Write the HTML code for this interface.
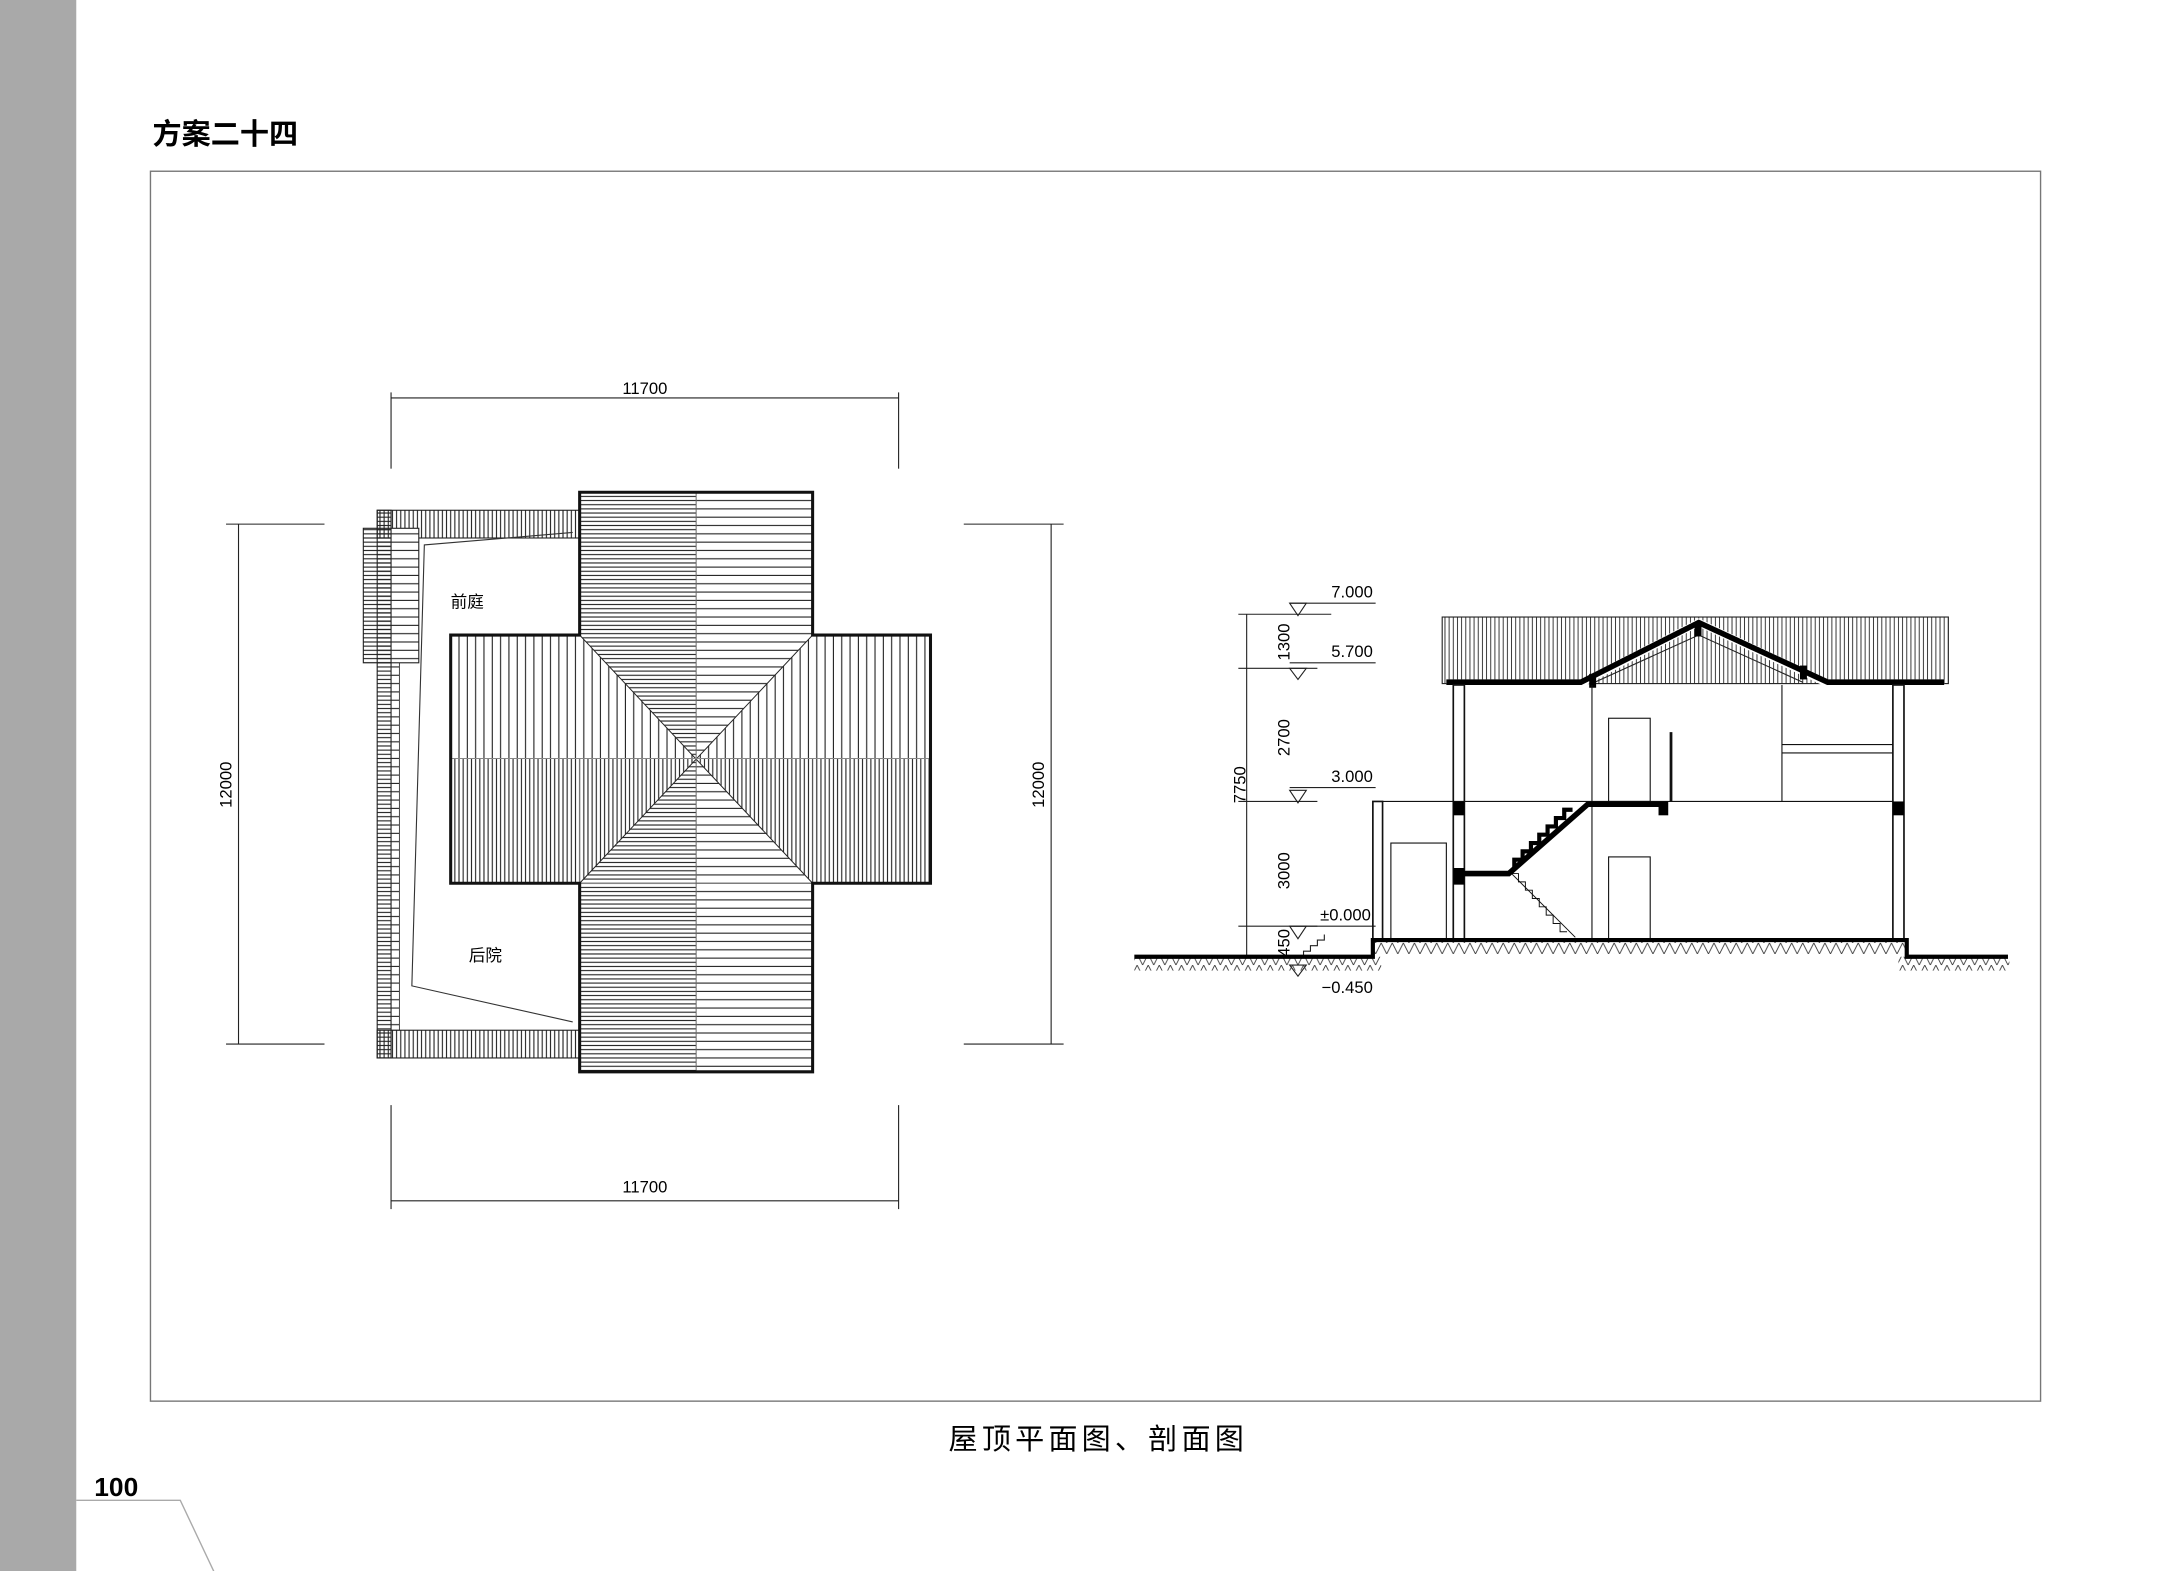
<!DOCTYPE html>
<html><head><meta charset="utf-8"><style>
html,body{margin:0;padding:0;background:#fff;width:2173px;height:1571px;overflow:hidden}
svg{display:block}
text{font-family:"Liberation Sans","Noto Sans CJK SC",sans-serif}
</style></head><body>
<svg width="2173" height="1571" viewBox="0 0 1567 1133" preserveAspectRatio="none" xmlns="http://www.w3.org/2000/svg">
<defs>
<pattern id="hD" width="10" height="3" patternUnits="userSpaceOnUse"><line x1="0" y1="1" x2="10" y2="1" stroke="#222" stroke-width="0.8"/></pattern>
<pattern id="hS" width="10" height="6" patternUnits="userSpaceOnUse"><line x1="0" y1="1" x2="10" y2="1" stroke="#222" stroke-width="0.8"/></pattern>
<pattern id="vD" width="3" height="10" patternUnits="userSpaceOnUse"><line x1="1" y1="0" x2="1" y2="10" stroke="#222" stroke-width="0.8"/></pattern>
<pattern id="vS" width="6" height="10" patternUnits="userSpaceOnUse"><line x1="1" y1="0" x2="1" y2="10" stroke="#222" stroke-width="0.8"/></pattern>
<pattern id="vR" width="3" height="10" patternUnits="userSpaceOnUse"><line x1="1" y1="0" x2="1" y2="10" stroke="#333" stroke-width="0.7"/></pattern>
<pattern id="gnd" width="8" height="8" patternUnits="userSpaceOnUse"><path d="M0,8 L4,0 L8,8" fill="none" stroke="#333" stroke-width="0.6"/></pattern>
</defs>
<rect x="0" y="0" width="55" height="1133" fill="#a9a9a9"/>
<text x="110" y="104" font-size="21" font-weight="bold">方案二十四</text>
<rect x="108.5" y="123.5" width="1363" height="887" fill="none" stroke="#777" stroke-width="1"/>
<text x="792" y="1045" font-size="21" text-anchor="middle" letter-spacing="3">屋顶平面图、剖面图</text>
<text x="68" y="1079" font-size="19" font-weight="bold">100</text>
<polyline points="55,1082 130,1082 155,1135" fill="none" stroke="#aaa" stroke-width="1"/>

<g stroke="#222" stroke-width="0.8" fill="none">
<line x1="282" y1="287" x2="648" y2="287"/><line x1="282" y1="283" x2="282" y2="338"/><line x1="648" y1="283" x2="648" y2="338"/>
<line x1="282" y1="866" x2="648" y2="866"/><line x1="282" y1="797" x2="282" y2="872"/><line x1="648" y1="797" x2="648" y2="872"/>
<line x1="172" y1="378" x2="172" y2="753"/><line x1="163" y1="378" x2="234" y2="378"/><line x1="163" y1="753" x2="234" y2="753"/>
<line x1="758" y1="378" x2="758" y2="753"/><line x1="695" y1="378" x2="767" y2="378"/><line x1="695" y1="753" x2="767" y2="753"/>
</g>
<text x="465" y="284" font-size="12" text-anchor="middle">11700</text>
<text x="465" y="860" font-size="12" text-anchor="middle">11700</text>
<text x="0" y="0" font-size="12" text-anchor="middle" transform="translate(167,566) rotate(-90)">12000</text>
<text x="0" y="0" font-size="12" text-anchor="middle" transform="translate(753,566) rotate(-90)">12000</text>

<rect x="272" y="368" width="146" height="20" fill="url(#vD)" stroke="#222" stroke-width="0.8"/>
<rect x="272" y="743" width="146" height="20" fill="url(#vD)" stroke="#222" stroke-width="0.8"/>
<rect x="272" y="368" width="10" height="395" fill="url(#hD)" stroke="#222" stroke-width="0.8"/>
<rect x="282" y="388" width="6" height="355" fill="url(#hS)" stroke="#222" stroke-width="0.6"/>
<rect x="262" y="381" width="20" height="97" fill="url(#hD)" stroke="#222" stroke-width="0.8"/>
<rect x="282" y="381" width="20" height="97" fill="#fff" stroke="#222" stroke-width="0.8"/>
<rect x="282" y="381" width="20" height="97" fill="url(#hS)"/>
<polyline points="413,384 306,393 297,711 413,737" fill="none" stroke="#333" stroke-width="0.8"/>
<text x="325" y="438" font-size="12">前庭</text>
<text x="338" y="693" font-size="12">后院</text>

<rect x="418" y="355" width="84" height="103" fill="url(#hD)"/>
<rect x="502" y="355" width="84" height="103" fill="url(#hS)"/>
<rect x="418" y="637" width="84" height="136" fill="url(#hD)"/>
<rect x="502" y="637" width="84" height="136" fill="url(#hS)"/>
<rect x="325" y="458" width="93" height="89" fill="url(#vS)"/>
<rect x="586" y="458" width="85" height="89" fill="url(#vS)"/>
<rect x="325" y="547" width="93" height="90" fill="url(#vD)"/>
<rect x="586" y="547" width="85" height="90" fill="url(#vD)"/>
<clipPath id="tT"><polygon points="418,458 586,458 502,547"/></clipPath>
<clipPath id="tB"><polygon points="418,637 586,637 502,547"/></clipPath>
<clipPath id="tL"><polygon points="418,458 418,637 502,547"/></clipPath>
<clipPath id="tR"><polygon points="586,458 586,637 502,547"/></clipPath>
<g clip-path="url(#tT)"><rect x="418" y="458" width="84" height="90" fill="url(#hD)"/><rect x="502" y="458" width="84" height="90" fill="url(#hS)"/></g>
<g clip-path="url(#tB)"><rect x="418" y="547" width="84" height="90" fill="url(#hD)"/><rect x="502" y="547" width="84" height="90" fill="url(#hS)"/></g>
<g clip-path="url(#tL)"><rect x="418" y="458" width="84" height="89" fill="url(#vS)"/><rect x="418" y="547" width="84" height="90" fill="url(#vD)"/></g>
<g clip-path="url(#tR)"><rect x="502" y="458" width="84" height="89" fill="url(#vS)"/><rect x="502" y="547" width="84" height="90" fill="url(#vD)"/></g>
<g stroke="#222" stroke-width="0.7">
<line x1="418" y1="458" x2="586" y2="637"/><line x1="586" y1="458" x2="418" y2="637"/>
<line x1="502" y1="355" x2="502" y2="773" stroke="#666"/><line x1="325" y1="547" x2="671" y2="547" stroke="#888"/>
</g>
<path d="M418,355 H586 V458 H671 V637 H586 V773 H418 V637 H325 V458 H418 Z" fill="none" stroke="#111" stroke-width="2.2"/>

<g stroke="#222" stroke-width="0.8" fill="none">
<line x1="899" y1="443" x2="899" y2="690"/>
<line x1="893" y1="443" x2="960" y2="443"/><line x1="893" y1="482" x2="950" y2="482"/>
<line x1="893" y1="578" x2="950" y2="578"/><line x1="893" y1="668" x2="950" y2="668"/><line x1="893" y1="690" x2="950" y2="690"/>
<line x1="930" y1="435" x2="992" y2="435"/><path d="M930,435 L942,435 L936,444 Z"/>
<line x1="930" y1="478" x2="992" y2="478"/><path d="M930,482 L942,482 L936,490 Z"/>
<line x1="930" y1="568" x2="992" y2="568"/><path d="M930,570 L942,570 L936,579 Z"/>
<line x1="930" y1="668" x2="992" y2="668"/><path d="M930,668 L942,668 L936,677 Z"/>
<path d="M930,696 L942,696 L936,704 Z"/>
<polyline points="940,690 940,686 945,686 945,682 950,682 950,678 955,678 955,674"/>
</g>
<g font-size="12">
<text x="960" y="431">7.000</text><text x="960" y="474">5.700</text><text x="960" y="564">3.000</text>
<text x="952" y="664">±0.000</text><text x="953" y="716">−0.450</text>
</g>
<g font-size="12" text-anchor="middle">
<text transform="translate(930,463) rotate(-90)">1300</text>
<text transform="translate(930,532) rotate(-90)">2700</text>
<text transform="translate(930,628) rotate(-90)">3000</text>
<text transform="translate(930,680) rotate(-90)">450</text>
<text transform="translate(898,566) rotate(-90)">7750</text>
</g>

<rect x="1040" y="445" width="365" height="48" fill="url(#vR)" stroke="#222" stroke-width="0.8"/>
<polygon points="1043,490 1140,490 1225,446 1318,490 1402,490 1402,495 1316,495 1225,452 1142,495 1043,495" fill="#fff"/>
<polyline points="1043,492 1140,492 1225,449 1318,492 1402,492" fill="none" stroke="#000" stroke-width="4"/>
<polyline points="1150,492 1225,458 1300,492" fill="none" stroke="#222" stroke-width="0.8"/>
<rect x="1146" y="486" width="5" height="10" fill="#000"/><rect x="1222" y="449" width="5" height="10" fill="#000"/><rect x="1298" y="480" width="5" height="10" fill="#000"/>
<g stroke="#111" fill="none">
<rect x="1048" y="494" width="8" height="184" stroke-width="1.2"/>
<rect x="1365" y="494" width="8" height="184" stroke-width="1.2"/>
<rect x="990" y="578" width="7" height="100" stroke-width="1.2"/>
<line x1="997" y1="578" x2="1365" y2="578" stroke-width="0.8"/>
<line x1="1148" y1="494" x2="1148" y2="678" stroke-width="0.8"/>
<line x1="1285" y1="494" x2="1285" y2="578" stroke-width="0.8"/>
<line x1="1285" y1="537" x2="1365" y2="537" stroke-width="0.8"/>
<line x1="1285" y1="543" x2="1365" y2="543" stroke-width="0.8"/>
<rect x="1003" y="608" width="40" height="70" stroke-width="0.8"/>
<rect x="1160" y="518" width="30" height="60" stroke-width="0.8"/>
<rect x="1160" y="618" width="30" height="60" stroke-width="0.8"/>
<line x1="1205" y1="528" x2="1205" y2="578" stroke-width="2"/>
<polyline points="1090,630 1095,630 1095,636 1100,636 1100,642 1105,642 1105,648 1110,648 1110,654 1115,654 1115,660 1120,660 1120,666 1125,666 1125,672 1130,672" stroke-width="0.7"/>
<line x1="1090" y1="630" x2="1136" y2="676" stroke-width="0.7"/>
</g>
<rect x="1048" y="578" width="8" height="10" fill="#000"/><rect x="1365" y="578" width="8" height="10" fill="#000"/>
<rect x="1048" y="626" width="8" height="12" fill="#000"/>
<polyline points="1056,630 1088,630 1145,580 1200,580" fill="none" stroke="#000" stroke-width="4"/>
<rect x="1196" y="578" width="7" height="10" fill="#000"/>
<polyline points="1092,626 1092,620 1098,620 1098,614 1104,614 1104,608 1110,608 1110,602 1116,602 1116,596 1122,596 1122,590 1128,590 1128,584 1134,584" fill="none" stroke="#000" stroke-width="3"/>
<rect x="990" y="678" width="385" height="10" fill="url(#gnd)"/>
<rect x="818" y="690" width="178" height="10" fill="url(#gnd)"/>
<rect x="1369" y="690" width="80" height="10" fill="url(#gnd)"/>
<polyline points="818,690 990,690 990,678 1375,678 1375,690 1448,690" fill="none" stroke="#000" stroke-width="3"/>
</svg>
</body></html>
